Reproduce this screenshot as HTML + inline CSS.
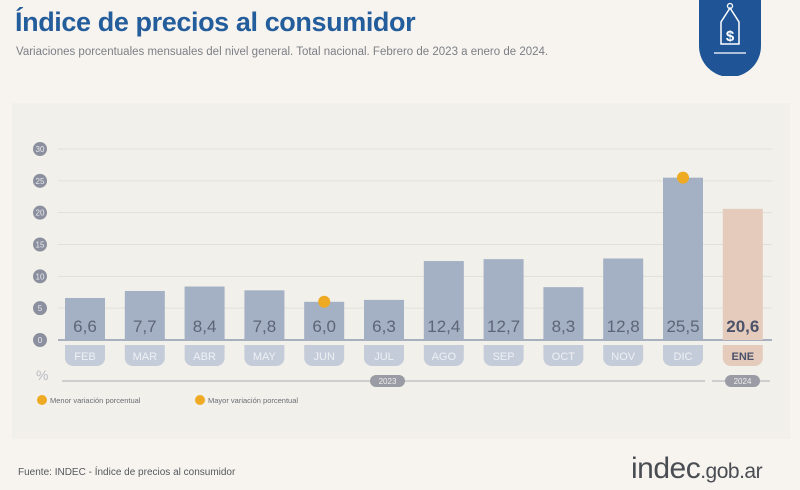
<!DOCTYPE html>
<html><head><meta charset="utf-8"><style>
body{margin:0;width:800px;height:490px;background:#f7f4ef;font-family:"Liberation Sans",sans-serif;overflow:hidden;position:relative}
.abs{position:absolute}
</style></head><body>
<div class="abs" style="left:15px;top:7px;font-size:27px;font-weight:bold;color:#245d9c;letter-spacing:-0.4px">Índice de precios al consumidor</div>
<div class="abs" style="left:16px;top:46px;font-size:11.5px;color:#7c7f86">Variaciones porcentuales mensuales del nivel general. Total nacional. Febrero de 2023 a enero de 2024.</div>
<svg class="abs" style="left:699px;top:0" width="62" height="76" viewBox="0 0 62 76">
<path d="M0 0H62V46A31 31 0 0 1 0 46Z" fill="#1f5596"/>
<path d="M31 8l-9 14v22h18V22z" fill="none" stroke="#fff" stroke-width="1.5"/>
<circle cx="31" cy="6" r="2.5" fill="none" stroke="#fff" stroke-width="1.3"/>
<text x="31" y="41" text-anchor="middle" font-size="15" font-weight="bold" fill="#fff" font-family="Liberation Sans">$</text>
<line x1="15" y1="53" x2="47" y2="53" stroke="#fff" stroke-width="1.3"/>
</svg>
<div class="abs" style="left:12px;top:103px;width:778px;height:336px;background:#f2f0eb"></div>
<svg class="abs" id="chart" style="left:0;top:0" width="800" height="490"></svg>
<div class="abs" style="left:18px;top:467px;font-size:10px;color:#55585e">Fuente: INDEC - Índice de precios al consumidor</div>
<div class="abs" style="left:631px;top:452px;font-size:30px;color:#4a4d53;letter-spacing:-0.5px">indec<span style="font-size:21px">.gob.ar</span></div>
<script>
const months=["FEB","MAR","ABR","MAY","JUN","JUL","AGO","SEP","OCT","NOV","DIC","ENE"];
const values=[6.6,7.7,8.4,7.8,6.0,6.3,12.4,12.7,8.3,12.8,25.5,20.6];
const labels=["6,6","7,7","8,4","7,8","6,0","6,3","12,4","12,7","8,3","12,8","25,5","20,6"];
const ticks=[0,5,10,15,20,25,30];
const minIdx=4, maxIdx=10;
const svg=document.getElementById('chart');const NS="http://www.w3.org/2000/svg";
function mk(t,a,p){const e=document.createElementNS(NS,t);for(const k in a)e.setAttribute(k,a[k]);(p||svg).appendChild(e);return e;}
const y=v=>340-v*(191/30);const x=i=>65+i*59.8;const bw=40;
ticks.forEach(t=>{
 const g=mk('line',{x1:58,x2:772,y1:y(t),y2:y(t),stroke:t?'#e1dfda':'#a9b0bd','stroke-width':t?1:2});
 
 
 const c=mk('circle',{cx:40,cy:y(t),r:7,fill:'#8c909e'});
 
 
 const tx=mk('text',{x:40,y:y(t)+3,'text-anchor':'middle','font-size':8,fill:'#e8e8ee'});tx.textContent=t;
 
 
});
values.forEach((v,i)=>{
 const last=i===11;
 const r=mk('rect',{x:x(i),y:y(v),width:bw,height:340-y(v),fill:last?'#e4cbbb':'#a4b0c3'});
 
 
 const t=mk('text',{x:x(i)+bw/2,y:332,'text-anchor':'middle','font-size':17,fill:last?'#4b526a':'#5d6678','font-weight':last?'bold':'normal'});t.textContent=labels[i];
 
 
 const p=mk('path',{d:`M${x(i)} 345H${x(i)+bw}V358a8 8 0 0 1-8 8H${x(i)+8}a8 8 0 0 1-8-8Z`,fill:last?'#e4cbbb':'#c5ccd9'});
 
 
 const m=mk('text',{x:x(i)+bw/2,y:360,'text-anchor':'middle','font-size':11,fill:last?'#4b526a':'#eef0f5','font-weight':last?'bold':'normal'});m.textContent=months[i];
 
 
});
[minIdx,maxIdx].forEach(i=>{const c=mk('circle',{cx:x(i)+bw/2,cy:y(values[i]),r:6,fill:'#eeaa22'});
 
 });
mk('text',{x:36,y:380,'font-size':14,fill:'#b8bbc2'}).textContent='%';
mk('line',{x1:62,x2:705,y1:381,y2:381,stroke:'#a8abb2','stroke-width':1});
mk('line',{x1:712,x2:770,y1:381,y2:381,stroke:'#a8abb2','stroke-width':1});
[[370,405,'2023'],[725,760,'2024']].forEach(([a,b,s])=>{mk('rect',{x:a,y:375,width:b-a,height:12,rx:6,fill:'#999ca4'});
 const t=mk('text',{x:(a+b)/2,y:384,'text-anchor':'middle','font-size':8,fill:'#eee'});t.textContent=s;
 
 });
mk('circle',{cx:42,cy:400,r:5,fill:'#eeaa22'});
mk('text',{x:50,y:403,'font-size':7.5,fill:'#6a6d74'}).textContent='Menor variación porcentual';
mk('circle',{cx:200,cy:400,r:5,fill:'#eeaa22'});
mk('text',{x:208,y:403,'font-size':7.5,fill:'#6a6d74'}).textContent='Mayor variación porcentual';
</script>
</body></html>
